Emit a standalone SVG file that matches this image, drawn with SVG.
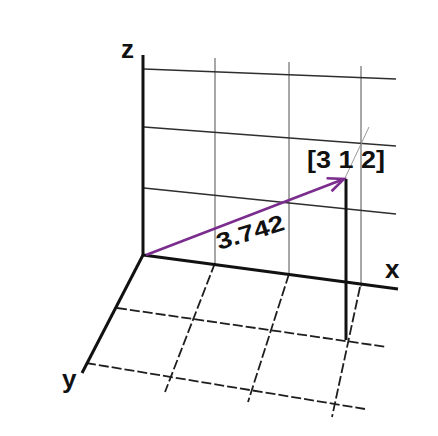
<svg xmlns="http://www.w3.org/2000/svg" width="438" height="436" viewBox="0 0 438 436">
<defs>
<style>
.grid{stroke:#2e2e2e;stroke-width:1.7;fill:none}
.vgrid{stroke:#8a8a8a;stroke-width:1.5;fill:none}
.floor{stroke:#1e1e1e;stroke-width:1.8;stroke-dasharray:10 3;fill:none}
.axis{stroke:#111;stroke-width:3;fill:none}
.lbl{font-family:"Liberation Sans",Arial,sans-serif;font-weight:bold;fill:#111}
</style>
<marker id="ah" markerUnits="userSpaceOnUse" markerWidth="20" markerHeight="18" refX="17" refY="8" orient="auto" viewBox="0 0 20 18">
<path d="M1,1 L17,8 L1,15" fill="none" stroke="#7b2d8e" stroke-width="2.6" stroke-linejoin="miter"/>
</marker>
</defs>
<rect width="438" height="436" fill="#fff"/>
<g id="connectors">
<g id="back-grid">
<line class="vgrid" x1="215" y1="58" x2="215" y2="263"/>
<line class="vgrid" x1="289" y1="62" x2="289" y2="274"/>
<line class="vgrid" x1="361" y1="66" x2="361" y2="287"/>
<line class="grid" x1="144" y1="69" x2="396" y2="79"/>
<line class="grid" x1="144" y1="127" x2="396" y2="146"/>
<line class="grid" x1="144" y1="188" x2="396" y2="214"/>
</g>
<g id="floor-grid">
<line class="floor" x1="117" y1="308" x2="387" y2="347"/>
<line class="floor" x1="86" y1="363" x2="365" y2="409"/>
<line class="floor" x1="215" y1="263" x2="165" y2="392"/>
<line class="floor" x1="289" y1="274" x2="248" y2="402"/>
<line class="floor" x1="360" y1="287" x2="332" y2="417"/>
</g>
<line stroke="#9a9a9a" stroke-width="1" x1="369" y1="127" x2="345" y2="178"/>
<line class="axis" x1="143" y1="55" x2="143" y2="256" stroke="#222"/>
<line class="axis" x1="143" y1="255" x2="398" y2="289"/>
<line class="axis" x1="143" y1="255" x2="82" y2="373"/>
<line class="axis" x1="346" y1="179" x2="346" y2="340"/>
<line x1="146" y1="255" x2="344" y2="179" stroke="#7b2d8e" stroke-width="2.6" marker-end="url(#ah)"/>
</g>
<g id="label-z"><text class="lbl" x="121" y="58" font-size="26">z</text></g>
<g id="label-x"><text class="lbl" x="385" y="278" font-size="26">x</text></g>
<g id="label-y"><text class="lbl" x="62" y="388" font-size="26">y</text></g>
<g id="label-point"><text class="lbl" x="307" y="168" font-size="23" textLength="78" lengthAdjust="spacingAndGlyphs">[3 1 2]</text></g>
<g id="label-length"><text class="lbl" x="0" y="0" font-size="23" textLength="70" lengthAdjust="spacingAndGlyphs" transform="translate(219,250) rotate(-17)">3.742</text></g>
</svg>
